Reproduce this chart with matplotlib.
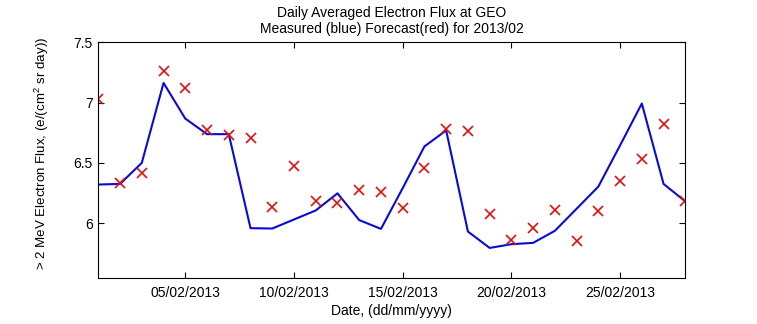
import numpy as np
import matplotlib
matplotlib.use("Agg")
import matplotlib.pyplot as plt

# 2013年2月の日別データ
days = np.arange(1, 29)
measured = [6.32, 6.325, 6.50, 7.163, 6.867, 6.738, 6.738, 5.958, 5.955, 6.03,
            6.105, 6.247, 6.025, 5.952, 6.29, 6.636, 6.769, 5.93, 5.794, 5.825,
            5.836, 5.936, 6.119, 6.303, 6.645, 6.992, 6.325, 6.18]
forecast = [7.027, 6.33, 6.413, 7.263, 7.122, 6.769, 6.727, 6.708, 6.136, 6.472,
            6.186, 6.163, 6.272, 6.257, 6.123, 6.456, 6.777, 6.763, 6.075, 5.858,
            5.963, 6.111, 5.852, 6.097, 6.347, 6.533, 6.822, 6.18]
tick_days = [5, 10, 15, 20, 25]
tick_labels = ["%02d/02/2013" % d for d in tick_days]
y_ticks = [6, 6.5, 7, 7.5]
y_tick_labels = ["6", "6.5", "7", "7.5"]

plt.rcParams['font.family'] = ['Liberation Sans', 'DejaVu Sans']
plt.rcParams['mathtext.fontset'] = 'custom'
plt.rcParams['mathtext.rm'] = 'Liberation Sans'
plt.rcParams['font.size'] = 10

fig = plt.figure(figsize=(7.57, 3.24), dpi=100)
ax = fig.add_axes([0.1299, 0.1429, 0.9053 - 0.1299, 0.8694 - 0.1429])

ax.plot(days, measured, color='#0a0ad8', lw=1.5)
ax.plot(days, forecast, 'x', color='#e01010', ms=7.5, mew=1.2)

ax.set_xlim(1, 28)
ax.set_ylim(5.547, 7.5)
ax.set_xticks(tick_days)
ax.set_xticklabels(tick_labels)
ax.set_yticks(y_ticks)
ax.set_yticklabels(y_tick_labels)
ax.tick_params(direction='in', top=True, right=True, length=4, width=0.8, pad=4)
ax.tick_params(axis='x', pad=6)
for s in ax.spines.values():
    s.set_linewidth(0.8)

ax.set_xlabel('Date, (dd/mm/yyyy)', labelpad=3)
ax.set_ylabel(r'> 2 MeV Electron Flux, (e/(cm$^{2}$ sr day))', fontsize=9.6)
ax.yaxis.set_label_coords(-0.081, 0.53)
ax.set_title('Daily Averaged Electron Flux at GEO\nMeasured (blue) Forecast(red) for 2013/02',
             linespacing=1.1, pad=7, fontsize=10)

fig.savefig('out.png', dpi=100)
